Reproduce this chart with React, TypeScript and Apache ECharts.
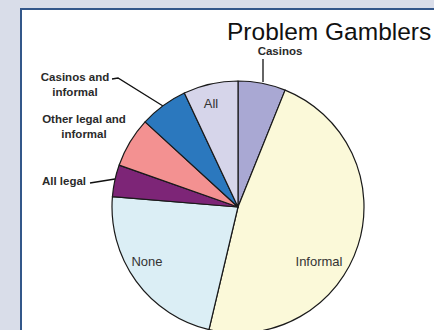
import React, { useEffect, useRef } from "react";
import * as echarts from "echarts";

const categories = ["Casinos", "Informal", "None", "All legal", "Other legal and\ninformal", "Casinos and\ninformal", "All"];
const values = [6.1, 47.6, 22.6, 4.1, 6.4, 6.2, 7.0];
const colors = ["#a9a8d3", "#fbf9d9", "#dbeef5", "#7d2577", "#f39191", "#2b78be", "#d6d5ea"];
const titleText = "Problem Gamblers";

// label placement (positions only)
const labelPos: any[] = [
  { x: 280, y: 51, bold: true, line: [[263, 59], [263, 82]] },
  { x: 319, y: 261 },
  { x: 147, y: 261 },
  { x: 64, y: 181, bold: true, line: [[90, 183], [115, 179]] },
  { x: 84, y: 126, bold: true },
  { x: 75, y: 84, bold: true, line: [[112, 79], [118, 78], [163, 106]] },
  { x: 211, y: 103 },
];

export default function App() {
  const ref = useRef<HTMLDivElement>(null);
  useEffect(() => {
    const chart = echarts.init(ref.current!, null, { renderer: "svg" });
    const data = categories.map((name, i) => {
      const p = labelPos[i];
      return {
        name,
        value: values[i],
        itemStyle: { color: colors[i] },
        label: {
          show: true,
          position: p.line ? "outside" : "inside",
          formatter: "{b}",
          fontFamily: "Liberation Sans, Arial, sans-serif",
          fontSize: p.bold ? 11.5 : 13,
          fontWeight: p.bold ? "bold" : "normal",
          color: p.bold ? "#2a2a2a" : "#333",
          lineHeight: 15,
          align: "center",
        },
        labelLine: { show: !!p.line, lineStyle: { color: "#111", width: 1.3 } },
      };
    });
    chart.setOption({
      animation: false,
      backgroundColor: "transparent",
      graphic: [
        {
          type: "rect",
          z: -10,
          silent: true,
          shape: { x: 21, y: 9, width: 600, height: 500 },
          style: { fill: "#ffffff", stroke: "#33578a", lineWidth: 2 },
        },
      ],
      title: {
        text: titleText,
        left: 222,
        top: 14,
        textStyle: { fontFamily: "Liberation Sans, Arial, sans-serif", fontSize: 24.5, fontWeight: "normal", color: "#111" },
      },
      series: [
        {
          type: "pie",
          center: [238, 207],
          radius: 126,
          startAngle: 90,
          clockwise: true,
          avoidLabelOverlap: false,
          itemStyle: { borderColor: "#1a1a1a", borderWidth: 1.2 },
          emphasis: { disabled: true },
          data,
          labelLayout: (params: any) => {
            const p = labelPos[params.dataIndex];
            const r: any = { x: p.x, y: p.y, align: "center", verticalAlign: "middle" };
            if (p.line) r.labelLinePoints = p.line;
            return r;
          },
        },
      ],
    });
    return () => chart.dispose();
  }, []);
  return (
    <div
      ref={ref}
      style={{ position: "fixed", left: 0, top: 0, width: 434, height: 330, background: "#d9dde9" }}
    />
  );
}
